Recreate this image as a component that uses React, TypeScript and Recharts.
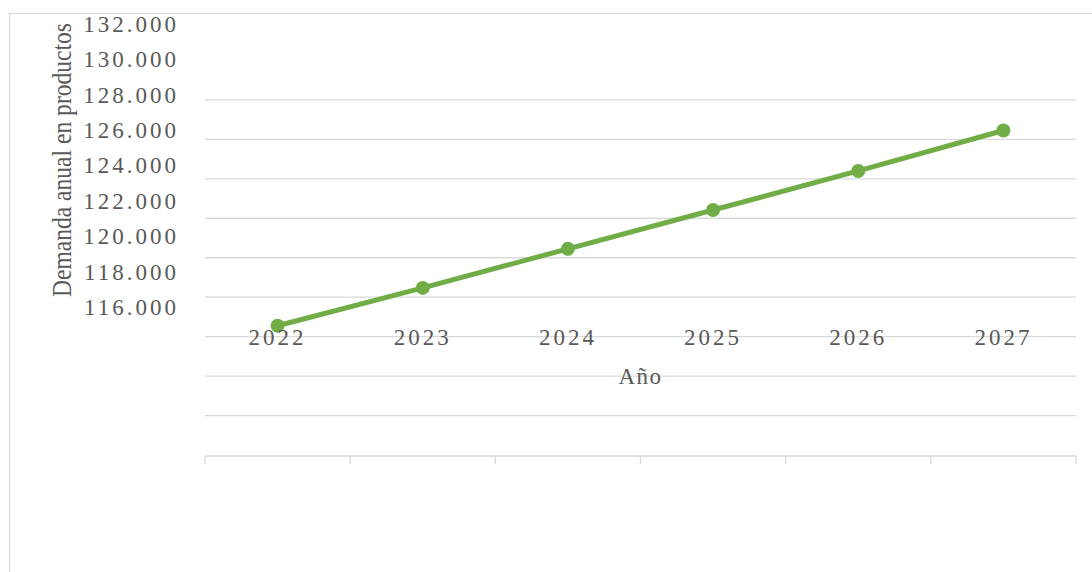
import React from "react";
import { LineChart, Line, XAxis, YAxis, CartesianGrid } from "recharts";

const years = ["2022", "2023", "2024", "2025", "2026", "2027"];
const demand = [116550, 118470, 120450, 122420, 124400, 126450];
const gridTicks = [112000, 114000, 116000, 118000, 120000, 122000, 124000, 126000, 128000];
const labelTicks = [116000, 118000, 120000, 122000, 124000, 126000, 128000, 130000, 132000];
const yTitle = "Demanda anual  en productos";
const xTitle = "Año";

const data = years.map((year, i) => ({ year, slot: i, demand: demand[i] }));
const yearEdges = [0, ...years.map((_, i) => i + 1)];

const GRID = "#d9d9d9";
const TEXT = "#595959";
const GREEN = "#70ad47";
const FONT = '"Liberation Serif", "Times New Roman", serif';

const formatThousands = (v: number) =>
  String(v).replace(/\B(?=(\d{3})+(?!\d))/g, ".");

// grid lines only at the value ticks, through the y axis scale
const gridRows = (props: any) => {
  const scale = props.yAxis && props.yAxis.scale;
  if (!scale) return [];
  return gridTicks.map((v) => (typeof scale === "function" ? scale(v) : scale.map(v)));
};

const YearTick = (props: any) => {
  const { x, y, payload } = props;
  return (
    <text x={x} y={y} dy={-110} textAnchor="middle" fill={TEXT}
      fontFamily={FONT} fontSize={23} letterSpacing={3}>
      {payload.value}
    </text>
  );
};

const DemandTick = (props: any) => {
  const { x, y, payload } = props;
  return (
    <text x={x} y={y} dy={8} textAnchor="end" fill={TEXT}
      fontFamily={FONT} fontSize={23} letterSpacing={3}>
      {formatThousands(payload.value)}
    </text>
  );
};

const NoTick = () => <g />;

const YTitle = () => (
  <text x={0} y={0} transform="translate(70.5, 160) rotate(-90)" textAnchor="middle"
    fill={TEXT} fontFamily={FONT} fontSize={28}
    textLength={274} lengthAdjust="spacingAndGlyphs">
    {yTitle}
  </text>
);

const XTitle = (props: any) => {
  const { viewBox } = props;
  return (
    <text x={viewBox.x + viewBox.width / 2} y={viewBox.y - 71} textAnchor="middle"
      fill={TEXT} fontFamily={FONT} fontSize={23} letterSpacing={1.5}>
      {xTitle}
    </text>
  );
};

const App: React.FC = () => {
  return (
    <div style={{ position: "fixed", left: 0, top: 0, width: 1092, height: 572, background: "#fff" }}>
      <div style={{
        position: "absolute", left: 9, top: 13, width: 1083, height: 559,
        borderTop: `1px solid ${GRID}`, borderLeft: `1px solid ${GRID}`, boxSizing: "border-box",
      }} />
      <div style={{ position: "absolute", left: 0, top: 0 }}>
        <LineChart width={1092} height={572} data={data}
          margin={{ top: 21, right: 16, bottom: 96, left: 30 }}>
          <CartesianGrid vertical={false} stroke={GRID} strokeWidth={1.3}
            xAxisId="cat" yAxisId="grid" horizontalCoordinatesGenerator={gridRows} />
          <XAxis xAxisId="frame" dataKey="slot" type="number" domain={[0, years.length]}
            allowDataOverflow ticks={yearEdges} interval={0} height={20}
            axisLine={{ stroke: GRID, strokeWidth: 1.3 }}
            tickLine={{ stroke: GRID, strokeWidth: 1.3 }} tickSize={8}
            tick={<NoTick />} />
          <XAxis xAxisId="cat" dataKey="year" type="category" scale="band" height={1}
            axisLine={false} tickLine={false} tickSize={0} tickMargin={0}
            interval={0} tick={<YearTick />}
            label={{ value: xTitle, content: XTitle }} />
          <YAxis yAxisId="grid" type="number" domain={[110000, 132000]}
            allowDataOverflow ticks={gridTicks} interval={0} width={0}
            axisLine={false} tickLine={false} tick={<NoTick />} />
          <YAxis yAxisId="label" type="number" domain={[107630, 132170]}
            allowDataOverflow ticks={labelTicks} interval={0} width={175}
            axisLine={false} tickLine={false} tickSize={0} tickMargin={26}
            tick={<DemandTick />}
            label={{ value: yTitle, content: YTitle }} />
          <Line xAxisId="cat" yAxisId="grid" dataKey="demand" type="linear"
            stroke={GREEN} strokeWidth={5}
            dot={{ r: 7, fill: GREEN, stroke: GREEN, strokeWidth: 0 }}
            activeDot={false} isAnimationActive={false} />
        </LineChart>
      </div>
    </div>
  );
};

export default App;
